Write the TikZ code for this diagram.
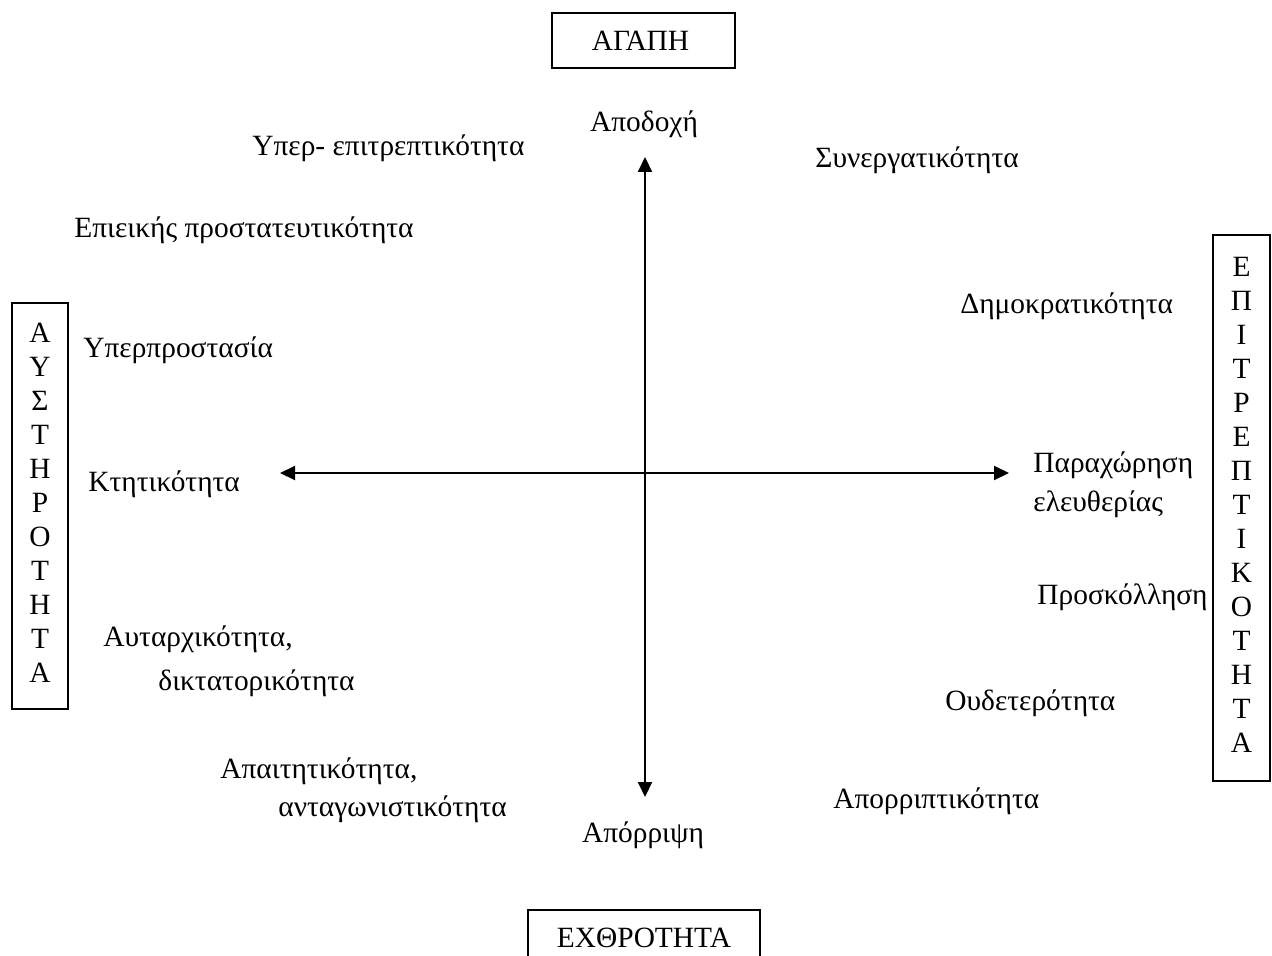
\documentclass[tikz,border=0pt]{standalone}
\usepackage{fontspec}
\setmainfont{Liberation Serif}
\usetikzlibrary{arrows.meta}
\newcommand{\twoline}[4]{{\fontsize{14.7pt}{#1}\selectfont\begin{tabular}[t]{@{}l@{}}#3\\\hspace*{#2}#4\end{tabular}}}
\newcommand{\vletters}[1]{\raisebox{2.5pt}{\fontsize{14.7pt}{17pt}\selectfont\begin{tabular}{@{}c@{}}#1\end{tabular}}}
\begin{document}
\begin{tikzpicture}[x=0.5pt,y=-0.5pt,
  every node/.style={font=\fontsize{14.7pt}{17pt}\selectfont},
  lbl/.style={anchor=base west, inner sep=0pt},
  clbl/.style={anchor=base, inner sep=0pt},
  box/.style={draw, line width=1pt, inner sep=0pt, align=center},
  axis/.style={line width=1pt, {Triangle[length=7.5pt,width=7pt]}-{Triangle[length=7.5pt,width=7pt]}}]
\useasboundingbox (0,0) rectangle (1272,956);
% boxes
\node[box, minimum width=91.5pt, minimum height=27.5pt] (agapi) at (643.5,40.5) {ΑΓΑΠΗ\hspace*{3pt}};
\node[box, minimum width=116pt, minimum height=27.5pt] (echthr) at (644,937.5) {ΕΧΘΡΟΤΗΤΑ};
\node[box, minimum width=28pt, minimum height=203pt] (austir) at (40,506)
  {\vletters{Α\\Υ\\Σ\\Τ\\Η\\Ρ\\Ο\\Τ\\Η\\Τ\\Α}};
\node[box, minimum width=28.5pt, minimum height=273pt] (epitr) at (1241.5,508)
  {\vletters{Ε\\Π\\Ι\\Τ\\Ρ\\Ε\\Π\\Τ\\Ι\\Κ\\Ο\\Τ\\Η\\Τ\\Α}};
% axes
\coordinate (top) at (645,157);
\coordinate (bottom) at (645,797);
\coordinate (left) at (280,473);
\coordinate (right) at (1009,473);
\draw[axis] (top) -- (bottom);
\draw[axis] (left) -- (right);
% labels
\node[clbl] (apodoxi) at (644,132) {Αποδοχή};
\node[clbl] (aporripsi) at (643,842) {Απόρριψη};
\node[lbl] (hyperepi) at (252,156) {Υπερ- επιτρεπτικότητα};
\node[lbl] (epieikis) at (74,238) {Επιεικής προστατευτικότητα};
\node[lbl] (hyperpro) at (83,358) {Υπερπροστασία};
\node[lbl] (ktitik) at (88,491) {Κτητικότητα};
\node[lbl] (autarx) at (103,646) {\twoline{22pt}{27.5pt}{Αυταρχικότητα,}{δικτατορικότητα}};
\node[lbl] (apait) at (220,778) {\twoline{19pt}{29pt}{Απαιτητικότητα,}{ανταγωνιστικότητα}};
\node[lbl] (synerg) at (815,168) {Συνεργατικότητα};
\node[lbl] (dimokr) at (960,314) {Δημοκρατικότητα};
\node[lbl] (paraxor) at (1033,472) {\twoline{20pt}{0pt}{Παραχώρηση}{ελευθερίας}};
\node[lbl] (proskol) at (1037,604) {Προσκόλληση};
\node[lbl] (oudet) at (945,710) {Ουδετερότητα};
\node[lbl] (aporript) at (833,808) {Απορριπτικότητα};
\end{tikzpicture}
\end{document}
